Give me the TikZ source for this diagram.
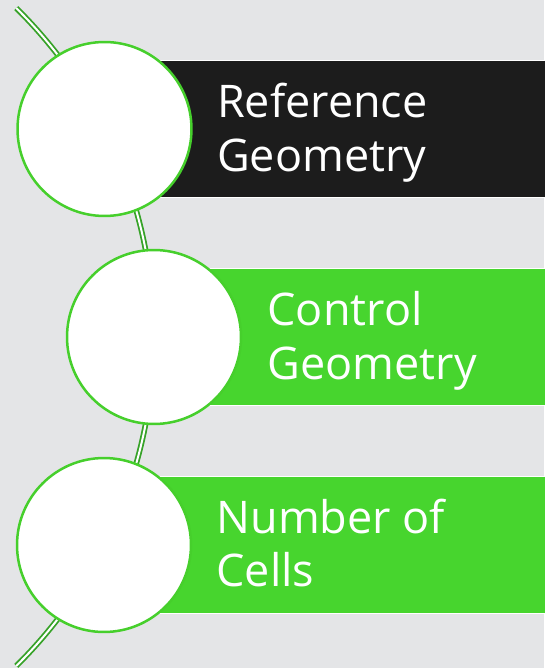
\documentclass[tikz,border=0pt]{standalone}
\usepackage{fontspec}
\setmainfont{Open Sans}
\usepackage{xcolor}
\definecolor{flowbg}{HTML}{E4E5E7}
\definecolor{flowdark}{HTML}{1C1C1C}
\definecolor{flowgreen}{HTML}{47D52E}
\definecolor{flowrim}{HTML}{46CF2C}
\definecolor{flowspine}{HTML}{36A228}
\usepackage{tikz}
\usetikzlibrary{positioning}
\tikzset{
  stepcircle/.style={
    circle, draw=flowrim, fill=white, line width=0.05cm,
    minimum size=3.48cm, inner sep=0pt
  },
  stepbar/.style={
    rectangle, draw=white, fill=#1, line width=0.03cm,
    minimum height=2.74cm, anchor=west, inner sep=0pt
  },
  steptext/.style={
    text=white, align=left, inner sep=0pt,
    font=\fontsize{25.6}{30.7}\selectfont
  },
  spine/.style={
    draw=flowspine, double=white, double distance=0.04cm,
    line width=0.036cm
  }
}
\begin{document}
\begin{tikzpicture}[x=0.02cm, y=0.02cm]
  \fill[flowbg] (0,0) rectangle (544,-668);
  \useasboundingbox (0,0) rectangle (544,-668);

  \coordinate (p1) at (104.5,-129);
  \coordinate (p2) at (154,-337);
  \coordinate (p3) at (104,-545);
  \coordinate (hub) at (-308,-337);

  % bars behind the circles
  \node[stepbar=flowdark, minimum width=8.9cm] (bar1) at (p1) {};
  \node[stepbar=flowgreen, minimum width=7.9cm] (bar2) at (p2) {};
  \node[stepbar=flowgreen, minimum width=8.9cm] (bar3) at (p3) {};

  % spine arc
  \draw[spine] (hub) ++(45.4:9.24cm) arc[start angle=45.4, end angle=-45.4, radius=9.24cm];

  \node[stepcircle] (c1) at (p1) {};
  \node[stepcircle] (c2) at (p2) {};
  \node[stepcircle] (c3) at (p3) {};

  \node[steptext, right=0.48cm of c1, yshift=-0.07cm] (t1) {Reference\\Geometry};
  \node[steptext, right=0.5cm of c2, yshift=-0.07cm] (t2) {Control\\Geometry};
  \node[steptext, right=0.48cm of c3, yshift=0.04cm] (t3) {Number of\\Cells};
\end{tikzpicture}
\end{document}
